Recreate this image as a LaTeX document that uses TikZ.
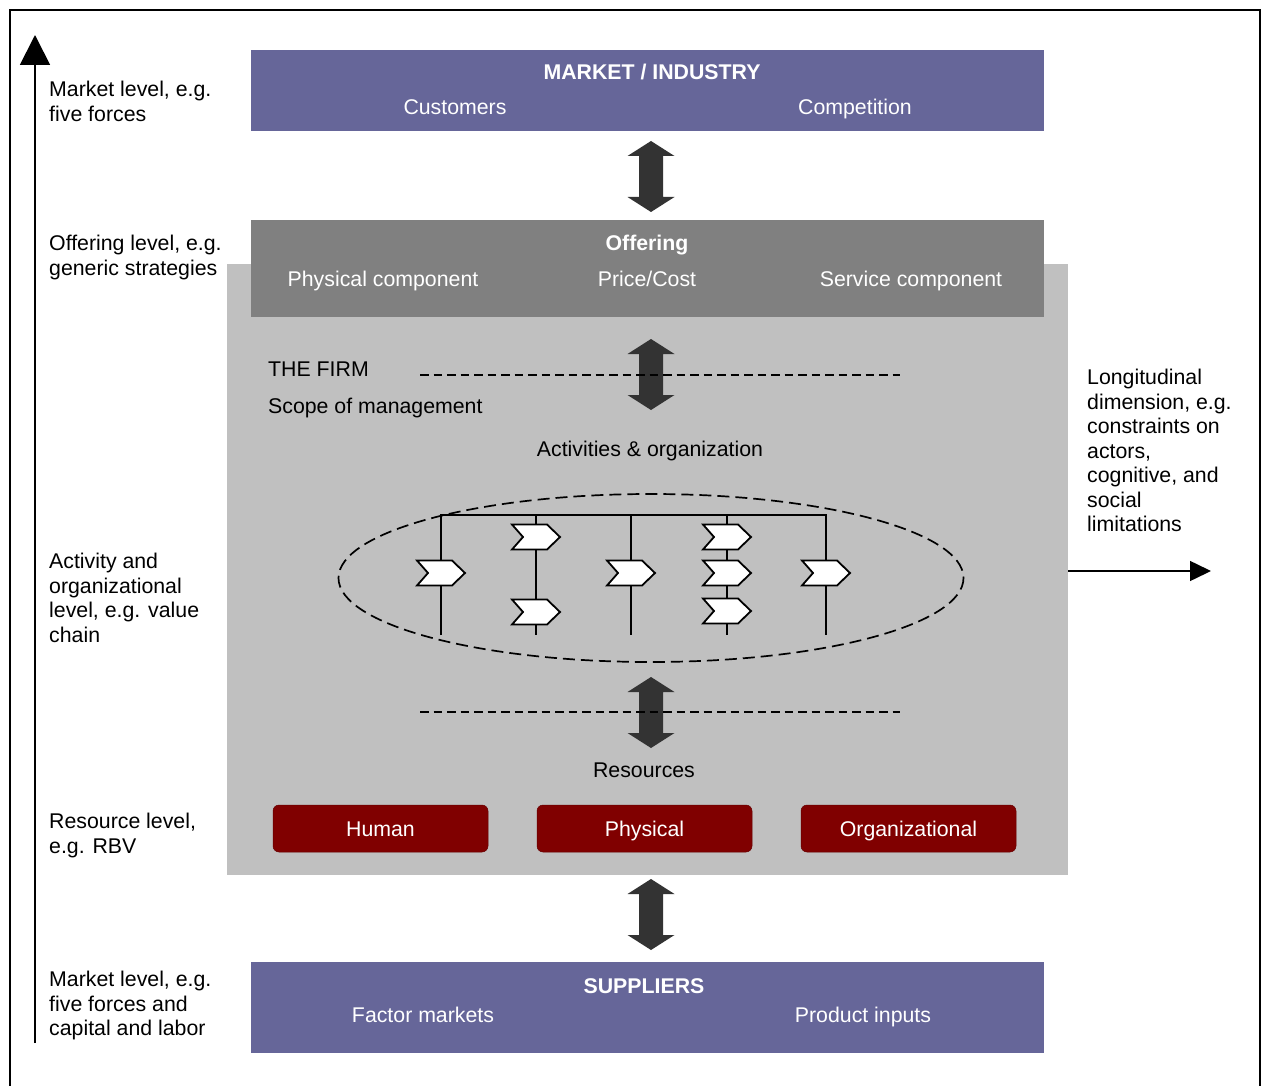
\documentclass[tikz,border=0pt]{standalone}
\usepackage{fontspec}
\setmainfont{Liberation Sans}
\usetikzlibrary{arrows.meta}
\definecolor{mktblue}{HTML}{666699}
\definecolor{offgray}{HTML}{808080}
\definecolor{firmgray}{HTML}{C0C0C0}
\definecolor{arrgray}{HTML}{333333}
\definecolor{resred}{HTML}{800000}
\newcommand\dblarr[3]{%
  \fill[arrgray] (#1,#2) -- (#1+23.5,#2+15) -- (#1+12,#2+15) -- (#1+12,#3-15) -- (#1+23.5,#3-15) -- (#1,#3)
   -- (#1-23.5,#3-15) -- (#1-12,#3-15) -- (#1-12,#2+15) -- (#1-23.5,#2+15) -- cycle;}
\tikzset{
  lab/.style={font=\fontsize{21.3}{24.5}\selectfont, inner sep=0pt},
  one/.style={lab, text height=15pt, text depth=0pt},
  multi/.style={lab, align=left, anchor=north west},
  wtxt/.style={one, text=white},
  btxt/.style={one, text=white, font=\fontsize{21.3}{24.5}\selectfont\bfseries},
  resbox/.style={fill=resred, rounded corners=6pt, draw=resred!80!black, line width=0.5pt},
  chevst/.style={draw=black, fill=white, line width=1.8pt, line join=miter},
  chev/.pic={\path[chevst] (-24,-12.5) -- (11,-12.5) -- (24,0) -- (11,12.5) -- (-24,12.5) -- (-13,0) -- cycle;},
  vline/.style={line width=1.9pt},
  dline/.style={line width=1.8pt, dash pattern=on 8.5pt off 5pt},
}
\begin{document}
\begin{tikzpicture}[x=1pt,y=-1pt]
\useasboundingbox (0,0) rectangle (1266,1086);
\clip (0,0) rectangle (1266,1086);
% frame
\draw[line width=1.8pt] (10,1100) -- (10,10) -- (1260,10) -- (1260,1100);
% left vertical arrow
\coordinate (lb) at (35,1043);
\coordinate (lt) at (35,35);
\draw[line width=1.8pt, -{Triangle[length=30pt,width=30pt]}] (lb) -- (lt);
% firm background
\fill[firmgray] (227,264) rectangle (1068,875);
\coordinate (firmE) at (1068,571);
% market box
\node[fill=mktblue, minimum width=793pt, minimum height=81pt, inner sep=0pt] (mkt) at (647.5,90.5) {};
\node[btxt] (mktT) at (652,72) {MARKET / INDUSTRY};
\node[wtxt] (cust) at (455,107) {Customers};
\node[wtxt] (comp) at (855,107) {Competition};
% offering box
\node[fill=offgray, minimum width=793pt, minimum height=97pt, inner sep=0pt] (off) at (647.5,268.5) {};
\node[btxt] (offT) at (647,243) {Offering};
\node[wtxt] (phys) at (383,279) {Physical component};
\node[wtxt] (price) at (647,279) {Price/Cost};
\node[wtxt] (serv) at (911,279) {Service component};
% suppliers box
\node[fill=mktblue, minimum width=793pt, minimum height=91pt, inner sep=0pt] (sup) at (647.5,1007.5) {};
\node[btxt] (supT) at (644,986) {SUPPLIERS};
\node[wtxt] (fact) at (423,1015) {Factor markets};
\node[wtxt] (prod) at (863,1015) {Product inputs};
% double arrows
\dblarr{651}{141}{212}
\dblarr{651}{339}{410}
\dblarr{651}{677}{748}
\dblarr{651}{879}{950}
% dashed lines
\draw[dline] (420,375) -- (900,375);
\draw[dline] (420,712) -- (900,712);
% firm texts
\node[one, anchor=west] (firm) at (268,369) {THE FIRM};
\node[one, anchor=west] (scope) at (268,406) {Scope of management};
\node[one] (act) at (650,449) {Activities \& organization};
\node[one] (res) at (644,770) {Resources};
% ellipse
\draw[line width=1.7pt, dash pattern=on 12pt off 6pt] (651,578) ellipse [x radius=312.5, y radius=84];
% value chain
\draw[vline] (441,635) -- (441,515) -- (826,515) -- (826,635);
\draw[vline] (536,515) -- (536,635);
\draw[vline] (631,515) -- (631,635);
\draw[vline] (727,515) -- (727,635);
\pic at (441,573) {chev};
\pic at (536,537) {chev};
\pic at (536,612) {chev};
\pic at (631,573) {chev};
\pic at (727,537) {chev};
\pic at (727,573) {chev};
\pic at (727,611) {chev};
\pic at (826,573) {chev};
% resource boxes
\node[resbox, minimum width=215pt, minimum height=47pt, inner sep=0pt] (hum) at (380.5,828.5) {};
\node[wtxt] at (hum) {Human};
\node[resbox, minimum width=215pt, minimum height=47pt, inner sep=0pt] (phy) at (644.5,828.5) {};
\node[wtxt] at (phy) {Physical};
\node[resbox, minimum width=215pt, minimum height=47pt, inner sep=0pt] (org) at (908.5,828.5) {};
\node[wtxt] at (org) {Organizational};
% right arrow
\coordinate (rt) at (1211,571);
\draw[line width=1.5pt, -{Triangle[length=21pt,width=20pt]}] (firmE) -- (rt);
% left texts
\node[multi] (t1) at (49,79.3) {\strut Market level, e.g.\\five forces};
\node[multi] (t2) at (49,233.3) {\strut Offering level, e.g.\\generic strategies};
\node[multi] (t3) at (49,551.3) {\strut Activity and\\organizational\\level, e.g. value\\chain};
\node[multi] (t4) at (49,811.3) {\strut Resource level,\\e.g. RBV};
\node[multi] (t5) at (49,969.3) {\strut Market level, e.g.\\five forces and\\capital and labor};
% right text
\node[multi] (t6) at (1087,367.3) {\strut Longitudinal\\dimension, e.g.\\constraints on\\actors,\\cognitive, and\\social\\limitations};
\end{tikzpicture}
\end{document}
